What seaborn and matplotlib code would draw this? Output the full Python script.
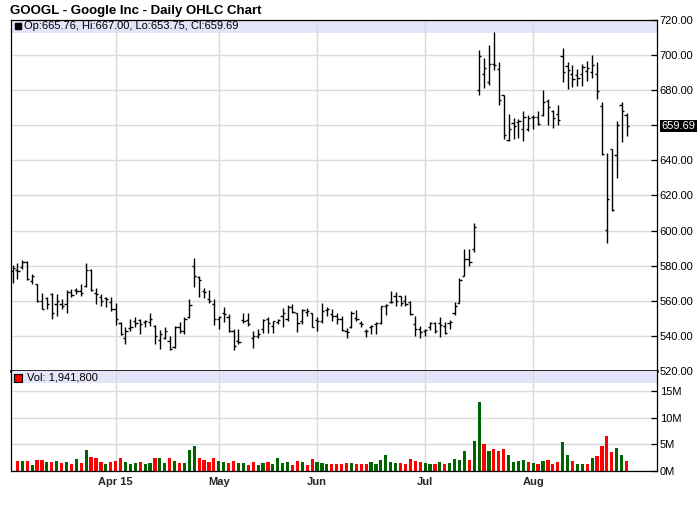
import numpy as np
import pandas as pd
import matplotlib
matplotlib.use("Agg")
import matplotlib.pyplot as plt
import matplotlib.transforms as mtransforms
from matplotlib.ticker import FuncFormatter, FixedLocator
import seaborn as sns

title_text = "GOOGL - Google Inc - Daily OHLC Chart"
start_date = "2015-03-03"
end_date = "2015-08-28"
holidays = ["2015-04-03", "2015-05-25", "2015-07-03"]

opens = [576.8, 577.7, 579.0, 582.3, 571.0, 569.5, 560.0, 561.5, 563.8, 558.1,
         558.1, 558.1, 565.0, 566.1, 565.3, 568.6, 577.5, 564.2, 561.9, 561.5,
         559.6, 555.2, 547.6, 539.0, 544.4, 548.6, 549.0, 548.2, 548.2, 545.7,
         537.5, 538.7, 537.1, 533.7, 545.1, 542.9, 550.5, 580.0, 573.3, 565.3,
         561.0, 558.1, 549.5, 552.8, 550.9, 542.9, 537.1, 549.0, 549.0, 539.0,
         540.0, 543.8, 549.5, 545.7, 548.0, 551.4, 549.5, 556.2, 552.8, 548.6,
         553.9, 553.3, 549.0, 548.6, 554.7, 552.4, 551.4, 549.5, 542.9, 545.1,
         550.1, 547.6, 542.9, 545.1, 546.7, 547.6, 557.1, 559.4, 562.9, 562.5,
         560.0, 559.4, 546.7, 543.8, 542.9, 544.8, 547.6, 547.2, 545.7, 547.6,
         553.3, 559.0, 574.3, 583.8, 589.5, 680.0, 689.0, 684.8, 694.7, 692.0,
         677.1, 651.4, 661.5, 661.9, 657.7, 657.7, 664.8, 664.8, 665.7, 673.7,
         668.0, 666.7, 699.6, 693.9, 689.0, 688.6, 689.0, 690.9, 690.1, 689.0,
         671.0, 600.6, 646.3, 642.9, 671.4, 665.76]
highs = [580.6, 581.3, 583.2, 582.9, 575.2, 569.8, 564.2, 561.9, 564.6, 563.8,
         561.0, 566.1, 566.7, 567.2, 569.5, 581.7, 578.1, 567.2, 563.8, 561.9,
         561.9, 558.5, 548.2, 545.1, 549.5, 551.0, 549.5, 549.1, 553.1, 546.3,
         543.2, 544.8, 540.0, 545.7, 548.0, 550.5, 561.0, 584.4, 574.3, 567.2,
         566.1, 561.0, 551.4, 556.6, 552.4, 543.8, 543.8, 552.8, 552.8, 542.9,
         543.8, 549.5, 550.9, 548.6, 549.5, 555.8, 557.7, 558.1, 553.3, 555.2,
         555.8, 553.3, 550.5, 559.0, 556.6, 555.2, 553.3, 551.4, 544.4, 554.3,
         554.7, 548.6, 543.8, 546.3, 548.0, 557.1, 558.1, 565.7, 565.1, 562.9,
         563.2, 560.0, 551.4, 545.7, 543.8, 548.0, 548.0, 550.5, 548.0, 549.1,
         559.4, 572.8, 589.5, 589.5, 604.4, 702.9, 698.1, 705.7, 713.0, 696.2,
         677.5, 666.3, 664.2, 663.4, 668.0, 665.7, 665.7, 668.0, 680.0, 674.9,
         668.6, 671.4, 703.8, 695.8, 694.3, 692.0, 694.7, 696.6, 700.0, 695.8,
         673.0, 644.4, 646.7, 662.3, 673.3, 667.00]
lows = [570.1, 572.4, 578.1, 571.8, 569.5, 559.6, 555.2, 555.2, 549.9, 551.4,
        555.2, 553.3, 561.9, 563.8, 562.9, 567.6, 565.7, 558.1, 557.1, 556.2,
        554.3, 546.3, 540.6, 535.2, 542.9, 545.1, 541.3, 544.8, 545.7, 535.6,
        532.4, 538.1, 531.8, 533.3, 541.9, 541.0, 550.1, 568.0, 561.9, 561.5,
        558.5, 546.3, 543.8, 548.2, 542.5, 531.8, 535.2, 547.6, 545.7, 533.3,
        538.7, 541.9, 541.9, 541.9, 547.0, 544.8, 548.6, 553.3, 542.5, 546.7,
        551.4, 544.8, 542.9, 547.6, 551.4, 548.6, 546.7, 542.9, 538.7, 544.4,
        548.6, 545.1, 539.4, 541.3, 541.0, 547.0, 551.8, 558.7, 556.8, 556.8,
        557.1, 551.8, 540.0, 539.0, 540.0, 543.4, 541.9, 539.6, 541.0, 544.2,
        551.8, 558.7, 573.9, 580.0, 587.6, 677.1, 681.3, 683.2, 691.4, 671.4,
        652.4, 650.9, 652.4, 652.8, 650.9, 656.6, 657.7, 660.4, 665.3, 660.0,
        658.5, 660.4, 684.4, 680.4, 681.9, 682.5, 682.5, 685.1, 686.7, 675.2,
        642.9, 593.0, 611.4, 629.9, 650.5, 653.75]
closes = [578.5, 577.1, 582.3, 572.4, 574.0, 560.0, 555.2, 558.1, 553.3, 560.0,
          557.1, 564.8, 563.5, 565.3, 564.5, 577.5, 566.2, 563.8, 560.0, 561.0,
          555.2, 549.5, 541.0, 542.9, 545.1, 547.6, 547.0, 548.6, 549.5, 540.0,
          541.0, 542.9, 532.4, 544.8, 542.9, 549.5, 557.7, 574.3, 571.8, 564.8,
          560.0, 549.5, 550.5, 552.4, 542.9, 534.3, 536.8, 548.6, 546.7, 540.0,
          541.0, 549.0, 547.6, 548.3, 549.0, 552.8, 556.6, 553.9, 547.6, 554.7,
          554.3, 545.1, 548.6, 554.0, 555.2, 551.4, 549.5, 543.2, 542.5, 553.3,
          549.5, 547.0, 542.9, 545.7, 547.2, 556.8, 557.5, 559.6, 560.0, 558.5,
          558.0, 552.4, 544.0, 542.0, 543.4, 547.2, 542.9, 546.0, 541.5, 548.0,
          557.1, 572.0, 583.8, 582.0, 601.9, 699.6, 692.4, 695.2, 694.3, 674.3,
          654.7, 658.1, 659.6, 662.3, 664.8, 664.0, 664.8, 661.0, 673.0, 670.5,
          664.2, 662.9, 690.1, 691.4, 686.3, 686.7, 693.3, 692.8, 694.3, 679.4,
          643.8, 618.1, 612.0, 660.0, 668.0, 659.69]
volume_millions = [np.nan, 1.96, 1.96, 1.96, 1.14, 2.08, 2.08, 1.70, 1.70, 1.89,
                   1.51, 1.70, 1.32, 2.27, 1.51, 3.97, 2.65, 2.46, 1.70, 1.32,
                   1.70, 1.89, 2.46, 1.70, 1.32, 1.51, 1.70, 1.32, 1.51, 2.46,
                   2.46, 1.51, 2.46, 1.89, 1.51, 1.51, 3.97, 4.73, 2.46, 2.08,
                   1.70, 2.46, 1.89, 1.70, 1.51, 1.89, 1.51, 1.51, 1.14, 1.70,
                   1.14, 1.51, 1.70, 1.32, 2.46, 1.51, 1.70, 1.14, 1.89, 1.70,
                   1.14, 2.27, 1.70, 1.51, 1.32, 1.32, 1.32, 1.32, 1.51, 1.45,
                   1.26, 1.26, 1.26, 1.64, 1.32, 2.08, 3.03, 1.70, 1.51, 1.51,
                   1.32, 2.27, 1.89, 1.70, 1.51, 1.32, 1.32, 1.70, 1.32, 1.51,
                   2.27, 2.08, 3.79, 2.08, 5.68, 13.06, 5.11, 3.79, 4.16, 3.79,
                   4.16, 3.03, 1.70, 1.89, 2.08, 1.70, 1.51, 1.32, 1.89, 2.08,
                   1.32, 1.70, 5.49, 3.03, 1.89, 1.32, 1.32, 1.32, 2.46, 2.84,
                   4.73, 6.62, 3.60, 4.35, 3.03, 1.9418]
price_ticks = [520, 540, 560, 580, 600, 620, 640, 660, 680, 700, 720]
volume_ticks_m = [0, 5, 10, 15]
last_volume_label = "Vol: 1,941,800"

# ------------------------------------------------------------------
sns.set_theme(style="white")
plt.rcParams["font.family"] = ["Liberation Sans", "DejaVu Sans"]

dates = pd.bdate_range(start_date, end_date, freq="C", holidays=holidays)
n = len(closes)
idx = np.arange(n)
df = pd.DataFrame({"idx": idx, "date": dates[:n], "open": opens, "high": highs,
                   "low": lows, "close": closes, "vol": np.array(volume_millions) * 1e6})
df["dir"] = np.where(df["close"].diff() > 0, "up", "down")

months = df["date"].dt.to_period("M")
month_start = df.index[months != months.shift(1)][1:]
month_labels = []
for k, i in enumerate(month_start):
    d = df.loc[i, "date"]
    month_labels.append(d.strftime("%b") + (d.strftime(" %y") if k == 0 else ""))

W, H = 700, 512
fig = plt.figure(figsize=(W / 100, H / 100), dpi=100)
left_px, right_px = 10.7, 657.0
p_top, p_bot, v_bot = 20.0, 371.0, 471.0
axp = fig.add_axes([left_px / W, 1 - p_bot / H, (right_px - left_px) / W, (p_bot - p_top) / H])
axv = fig.add_axes([left_px / W, 1 - v_bot / H, (right_px - left_px) / W, (v_bot - p_bot) / H])

spacing_px = 4.912
x0 = -(12.5 - left_px) / spacing_px
x1 = x0 + (right_px - left_px) / spacing_px

last = df.iloc[-1]

grid_col = "#dadada"
for ax in (axp, axv):
    ax.set_facecolor("white")
    ax.set_axisbelow(True)
    ax.grid(True, color=grid_col, linewidth=1.0)
    ax.xaxis.set_major_locator(FixedLocator(list(month_start)))
    for s in ax.spines.values():
        s.set_color("black")
        s.set_linewidth(0.9)
        s.set_visible(True)
    ax.yaxis.tick_right()
    ax.tick_params(axis="y", direction="in", length=4, width=0.9, color="black",
                   pad=2, labelsize=8, labelcolor="black", left=False, right=True)
    ax.tick_params(axis="x", length=0)

# --- price panel ---
axp.axhspan(712.7, 720, color="#e4e4fa", zorder=0.2, linewidth=0)
axp.vlines(df["idx"], df["low"], df["high"], colors="black", linewidth=1.0, zorder=3)
axp.hlines(df["open"], df["idx"] - 0.45, df["idx"], colors="black", linewidth=1.0, zorder=3)
axp.hlines(df["close"], df["idx"], df["idx"] + 0.45, colors="black", linewidth=1.0, zorder=3)
axp.set_xlim(x0, x1)
axp.set_ylim(520, 720)
axp.set_yticks(price_ticks)
# the tick label hidden behind the last-close marker
hidden_tick = min(price_ticks, key=lambda t: abs(t - last["close"]))
axp.yaxis.set_major_formatter(
    FuncFormatter(lambda v, p: "" if abs(v - hidden_tick) < 1e-6 else f"{v:.2f}"))
axp.set_xticklabels([])
axp.spines["bottom"].set_linewidth(1.9)
axp.spines["bottom"].set_zorder(5)

axp.plot([0.0113], [0.9815], marker="s", ms=4.5, color="black",
         transform=axp.transAxes, clip_on=False)
axp.text(0.0206, 0.9815,
         f"Op:{last['open']:.2f}, Hi:{last['high']:.2f}, Lo:{last['low']:.2f}, Cl:{last['close']:.2f}",
         transform=axp.transAxes, va="center", ha="left", fontsize=8, color="black")
trans = mtransforms.blended_transform_factory(axp.transAxes, axp.transData)
axp.text(1.0 + 4.5 / (right_px - left_px), last["close"], f"{last['close']:.2f}",
         transform=trans, ha="left", va="center", fontsize=8, color="white", zorder=10,
         clip_on=False, bbox=dict(boxstyle="square,pad=0.12", fc="black", ec="none"))

# --- volume panel ---
vdf = df.iloc[1:]
sns.barplot(data=vdf, x="idx", y="vol", hue="dir",
            palette={"up": "#006400", "down": "#ff0000"}, dodge=False,
            native_scale=True, width=0.65, saturation=1, errorbar=None,
            linewidth=0, legend=False, ax=axv)
axv.axhspan(16.5e6, 18.8e6, color="#e4e4fa", zorder=0.2, linewidth=0)
axv.set_xlim(x0, x1)
axv.set_ylim(0, 18.8e6)
axv.set_yticks([t * 1e6 for t in volume_ticks_m])
axv.yaxis.set_major_formatter(FuncFormatter(lambda v, p: f"{v / 1e6:.0f}M"))
axv.xaxis.set_major_locator(FixedLocator(list(month_start)))
axv.set_xticklabels(month_labels, fontsize=8, fontweight="bold")
axv.tick_params(axis="x", pad=4)
axv.set_xlabel("")
axv.set_ylabel("")
axv.spines["top"].set_visible(False)
axv.plot([0.0113], [0.935], marker="s", ms=5.5, markerfacecolor="#ff0000",
         markeredgecolor="black", markeredgewidth=0.8, transform=axv.transAxes, clip_on=False)
axv.text(0.0252, 0.935, last_volume_label, transform=axv.transAxes,
         va="center", ha="left", fontsize=8, color="black")

fig.text(10 / W, 1 - 11 / H, title_text, fontsize=9.5, fontweight="bold",
         ha="left", va="center", color="black")

fig.savefig("out.png", dpi=100)
